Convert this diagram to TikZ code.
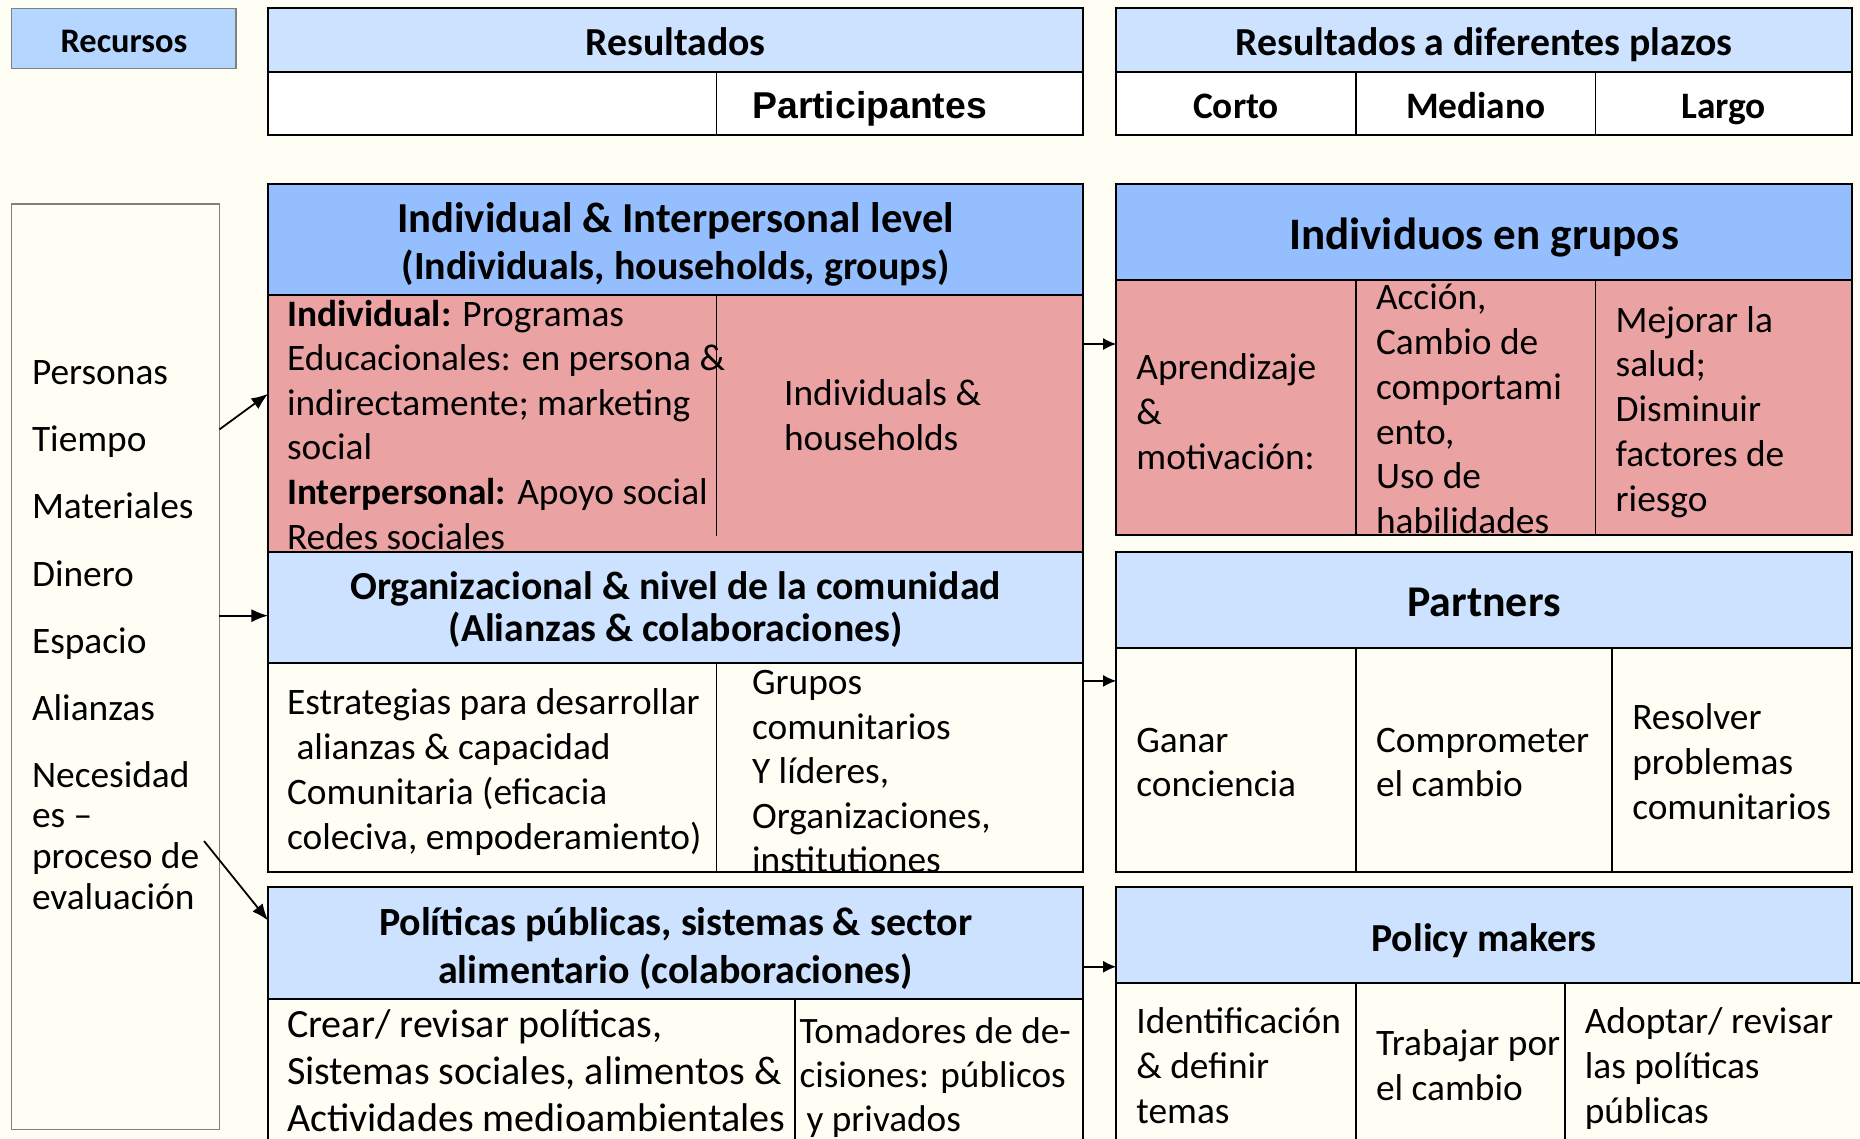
\documentclass[tikz,border=0pt]{standalone}
\usepackage{fontspec}
\setmainfont{Carlito}
\newfontfamily\arialf{Liberation Sans}
\usetikzlibrary{arrows.meta,calc}
\definecolor{bg}{HTML}{FFFEF4}
\definecolor{recblue}{HTML}{B4D6FF}
\definecolor{ltblue}{HTML}{CCE2FF}
\definecolor{mdblue}{HTML}{95BEFF}
\definecolor{pinkc}{HTML}{EBA2A2}
\definecolor{grayline}{HTML}{808080}
\newcommand{\fsz}[2]{\fontsize{#1pt}{#2pt}\selectfont}
\begin{document}
\begin{tikzpicture}[x=1pt,y=-1pt,
 cell/.style={draw=black,line width=1.6pt,anchor=north west,inner sep=0pt,outer sep=0pt},
 gcell/.style={draw=grayline,line width=1pt,anchor=north west,inner sep=0pt,outer sep=0pt},
 hdr/.style={text height=#1,text depth=0pt},
 htx/.style={inner sep=0pt,outer sep=0pt,align=center},
 tx/.style={anchor=north west,inner sep=0pt,outer sep=0pt,align=left},
 divl/.style={line width=1.3pt},
 bord/.style={line width=1.6pt},
 arr/.style={line width=1.5pt,-{Latex[length=14pt,width=11pt]}},
 arrs/.style={line width=1.3pt,-{Latex[length=11pt,width=10pt]}}]
\useasboundingbox (0,0) rectangle (1568,960);
\fill[bg] (0,0) rectangle (1568,960);
\clip (0,0) rectangle (1568,960);

% top headers
\node[gcell,fill=recblue,minimum width=189pt,minimum height=51pt,hdr=23.6pt,font={\fsz{29}{33}\bfseries}] (rec) at (10,7) {Recursos};
\node[cell,fill=ltblue,minimum width=687pt,minimum height=54pt,hdr=26.4pt,font={\fsz{33.5}{38}\bfseries}] (resh) at (226,7) {Resultados};
\node[cell,fill=white,minimum width=378pt,minimum height=53pt] (resl) at (226,61) {};
\node[cell,fill=white,minimum width=309pt,minimum height=53pt] (resp) at (604,61) {};
\node[anchor=base west,inner sep=0pt,font={\arialf\fsz{31.5}{36}\bfseries}] (partt) at (634,99.5) {Participantes};
\node[cell,fill=ltblue,minimum width=620pt,minimum height=54pt,hdr=26.4pt,font={\fsz{33.5}{38}\bfseries}] (plh) at (941,7) {Resultados a diferentes plazos};
\node[cell,fill=white,minimum width=202pt,minimum height=53pt,hdr=25pt,font={\fsz{31.5}{36}\bfseries}] (corto) at (941,61) {Corto};
\node[cell,fill=white,minimum width=202pt,minimum height=53pt,hdr=25pt,font={\fsz{31.5}{36}\bfseries}] (mediano) at (1143,61) {Mediano};
\node[cell,fill=white,minimum width=216pt,minimum height=53pt,hdr=25pt,font={\fsz{31.5}{36}\bfseries}] (largo) at (1345,61) {Largo};

% left resources box
\node[gcell,fill=bg,minimum width=175pt,minimum height=780pt] (lbox) at (10,172) {};
\node[tx,font={\fsz{31.5}{34.3}}] (lres) at (27,300.5) {\strut Personas\\[22.2pt]Tiempo\\[22.2pt]Materiales\\[22.2pt]Dinero\\[22.2pt]Espacio\\[22.2pt]Alianzas\\[22.2pt]Necesidad\\es --\\proceso de\\evaluación};

% box 1
\node[cell,fill=pinkc,minimum width=687pt,minimum height=216pt] (b1b) at (226,249) {};
\node[cell,fill=mdblue,minimum width=687pt,minimum height=94pt] (b1h) at (226,155) {};
\node[htx,font={\fsz{36}{40}\bfseries}] (b1ht) at ($(b1h.center)+(0,6)$) {\strut Individual \& Interpersonal level\\\strut{\fsz{33.7}{40}(Individuals, households, groups)}};
\draw[divl] (604,249) -- (604,452);
\begin{scope}
\clip (b1b.north west) rectangle (b1b.south east);
\node[tx,font={\fsz{31.5}{37.6}}] (b1l) at (242,248.5) {\strut\textbf{Individual:} Programas\\Educacionales: en persona \&\\indirectamente; marketing\\social\\\textbf{Interpersonal:} Apoyo social\\Redes sociales};
\end{scope}
\node[tx,font={\fsz{31.5}{37.6}}] (b1r) at (661,315.5) {\strut Individuals \&\\households};

% box 2
\node[cell,fill=bg,minimum width=687pt,minimum height=176pt] (b2b) at (226,559) {};
\node[cell,fill=ltblue,minimum width=687pt,minimum height=94pt] (b2h) at (226,465) {};
\node[htx,font={\fsz{33.5}{36}\bfseries}] (b2ht) at ($(b2h.center)+(0,4)$) {\strut Organizacional \& nivel de la comunidad\\\strut (Alianzas \& colaboraciones)};
\draw[divl] (604,559) -- (604,735);
\node[tx,font={\fsz{31.5}{38}}] (b2l) at (242,575.4) {\strut Estrategias para desarrollar\\\hspace*{8pt}alianzas \& capacidad\\Comunitaria (eficacia\\coleciva, empoderamiento)};
\begin{scope}
\clip (b2b.north west) rectangle (b2b.south east);
\node[tx,font={\fsz{31.5}{37.5}}] (b2r) at (634,559.5) {\strut Grupos\\comunitarios\\Y líderes,\\Organizaciones,\\institutiones};
\end{scope}
\draw[bord] (b2b.south west) -- (b2b.south east);

% box 3
\node[cell,fill=bg,minimum width=687pt,minimum height=140pt] (b3b) at (226,842) {};
\node[cell,fill=ltblue,minimum width=687pt,minimum height=94pt] (b3h) at (226,748) {};
\node[htx,font={\fsz{33.7}{40}\bfseries}] (b3ht) at ($(b3h.center)+(0,6)$) {\strut Políticas públicas, sistemas \& sector\\\strut alimentario (colaboraciones)};
\draw[divl] (670,842) -- (670,982);
\node[tx,font={\fsz{33.8}{39.5}}] (b3l) at (242,847) {\strut Crear/ revisar políticas,\\Sistemas sociales, alimentos \&\\Actividades medioambientales};
\node[tx,font={\fsz{31.4}{37}}] (b3r) at (674,854) {\strut Tomadores de de-\\cisiones: públicos\\\hspace*{6pt}y privados};

% right box A
\node[cell,fill=pinkc,minimum width=202pt,minimum height=215pt] (rA1) at (941,236) {};
\node[cell,fill=pinkc,minimum width=202pt,minimum height=215pt] (rA2) at (1143,236) {};
\node[cell,fill=pinkc,minimum width=216pt,minimum height=215pt] (rA3) at (1345,236) {};
\node[cell,fill=mdblue,minimum width=620pt,minimum height=81pt,hdr=29.3pt,font={\fsz{38}{44}\bfseries}] (rAh) at (941,155) {Individuos en grupos};
\node[tx,font={\fsz{31.5}{38}}] (rA1t) at (958,293.4) {\strut Aprendizaje\\\&\\motivación:};
\node[tx,font={\fsz{31.5}{37.8}}] (rA2t) at (1160,234.5) {\strut Acción,\\Cambio de\\comportami\\ento,\\Uso de\\habilidades};
\node[tx,font={\fsz{31.5}{37.75}}] (rA3t) at (1362,253.6) {\strut Mejorar la\\salud;\\Disminuir\\factores de\\riesgo};

% right box B
\node[cell,fill=bg,minimum width=202pt,minimum height=189pt] (rB1) at (941,546) {};
\node[cell,fill=bg,minimum width=216pt,minimum height=189pt] (rB2) at (1143,546) {};
\node[cell,fill=bg,minimum width=202pt,minimum height=189pt] (rB3) at (1359,546) {};
\node[cell,fill=ltblue,minimum width=620pt,minimum height=81pt,hdr=28.7pt,font={\fsz{37}{42}\bfseries}] (rBh) at (941,465) {Partners};
\node[tx,font={\fsz{31.5}{37.5}}] (rB1t) at (958,607.75) {\strut Ganar\\conciencia};
\node[tx,font={\fsz{31.5}{37.5}}] (rB2t) at (1160,607.75) {\strut Comprometer\\el cambio};
\node[tx,font={\fsz{31.5}{38}}] (rB3t) at (1376,588.4) {\strut Resolver\\problemas\\comunitarios};

% right box C
\node[cell,fill=bg,minimum width=202pt,minimum height=150pt] (rC1) at (941,829) {};
\node[cell,fill=bg,minimum width=176pt,minimum height=150pt] (rC2) at (1143,829) {};
\node[cell,fill=bg,minimum width=280pt,minimum height=150pt] (rC3) at (1319,829) {};
\node[cell,fill=ltblue,minimum width=620pt,minimum height=81pt,hdr=26.4pt,font={\fsz{33.5}{38}\bfseries}] (rCh) at (941,748) {Policy makers};
\node[tx,font={\fsz{31.5}{38}}] (rC1t) at (958,844.4) {\strut Identificación\\\& definir\\temas};
\node[tx,font={\fsz{31.5}{38}}] (rC2t) at (1160,863.4) {\strut Trabajar por\\el cambio};
\node[tx,font={\fsz{31.5}{38}}] (rC3t) at (1336,844.4) {\strut Adoptar/ revisar\\las políticas\\públicas};

% arrows
\draw[arr] ($(lbox.north east)+(0,190)$) -- ($(b1b.north west)+(0,83)$);
\draw[arr] ($(lbox.north east)+(0,347)$) -- ($(b2h.north west)+(0,54)$);
\draw[arr] ($(lbox.north east)+(-13,537)$) -- ($(b3h.north west)+(0,28)$);
\draw[arrs] ($(b1b.north east)+(0,41)$) -- ($(rA1.north west)+(0,54)$);
\draw[arrs] ($(b2b.north east)+(0,15)$) -- ($(rB1.north west)+(0,28)$);
\draw[arrs] ($(b3h.north east)+(0,67)$) -- ($(rCh.north west)+(0,67)$);
\end{tikzpicture}
\end{document}
